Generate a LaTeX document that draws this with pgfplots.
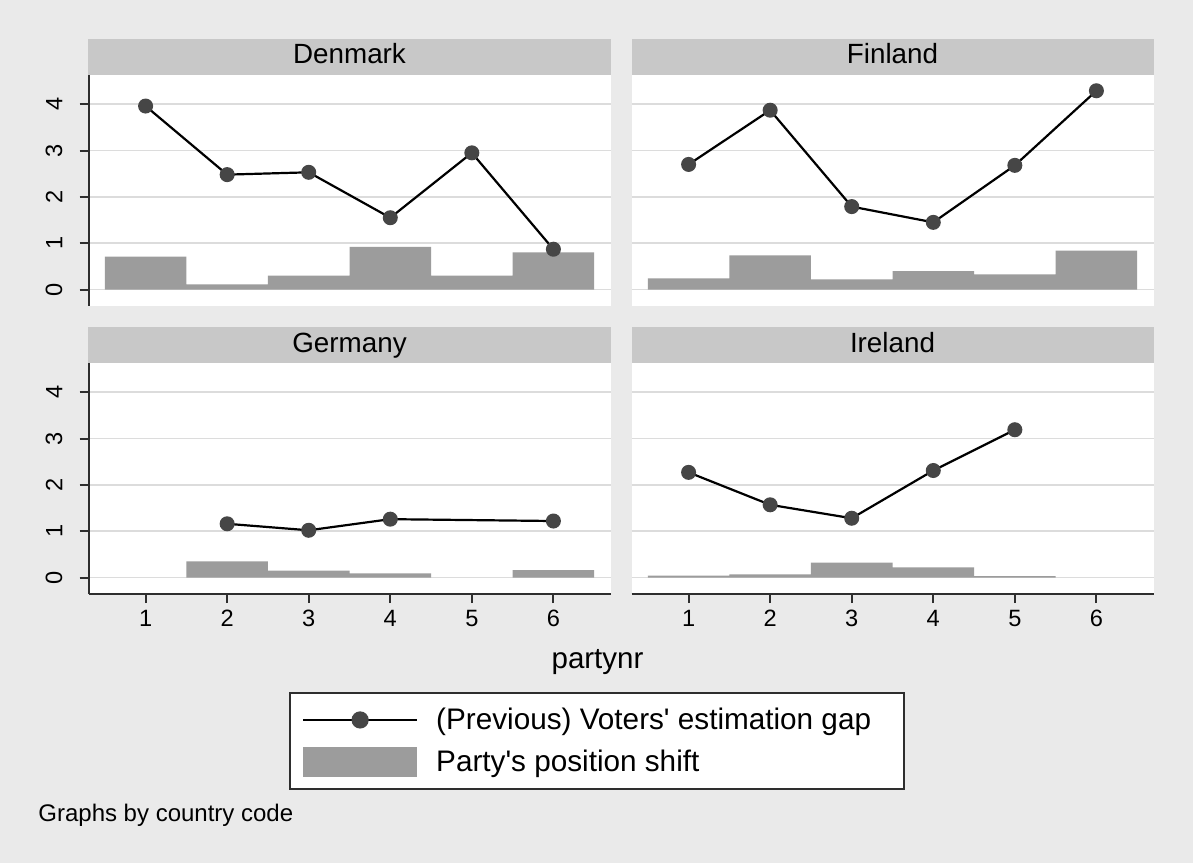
\documentclass[border=0pt]{standalone}
\usepackage{fontspec}
\setmainfont{Liberation Sans}
\usepackage{pgfplots}
\pgfplotsset{compat=1.18}

\definecolor{bgc}{HTML}{EAEAEA}
\definecolor{hdr}{HTML}{C8C8C8}
\definecolor{barc}{HTML}{9C9C9C}
\definecolor{mkc}{HTML}{464646}
\definecolor{gridc}{HTML}{DCDCDC}
\definecolor{axc}{HTML}{2E2E2E}

\pgfplotsset{
  panel/.style={
    scale only axis, width=261pt, height=115.5pt,
    xmin=0.3, xmax=6.7, ymin=-0.355, ymax=4.63,
    xtick={1,...,6}, ytick={0,...,4},
    axis x line*=bottom, axis y line*=left,
    axis line style={axc, line width=1pt},
    major tick length=4.5pt, tick align=outside,
    ymajorgrids, major grid style={gridc, line width=0.75pt},
    axis background/.style={fill=white},
    /pgf/number format/assume math mode=true,
    tick label style={font=\fontsize{11.8}{14}\selectfont},
    % rotated labels: the node's own y axis points left
    yticklabel style={rotate=90, anchor=south, yshift=5pt},
    every axis title shift=0pt,
    title style={at={(0.5,1)}, anchor=south, fill=hdr, minimum width=261pt,
      minimum height=18pt, inner sep=0pt, text height=10pt, text depth=2.6pt,
      font=\fontsize{13.9}{16}\selectfont},
  },
  leftpanel/.style={ytick style={axc, line width=1pt}},
  rightpanel/.style={y axis line style={draw=none}, ytick style={draw=none}, yticklabels={}},
  toppanel/.style={x axis line style={draw=none}, xtick style={draw=none}, xticklabels={}},
  bottompanel/.style={xtick style={axc, line width=1pt}},
  gapline/.style={black, line width=1.1pt, mark=*, mark size=3.35pt,
    mark options={fill=mkc, draw=mkc, line width=0.8pt},
    legend image code/.code={
      \draw[black, line width=1.1pt] (0pt,0pt) -- (57pt,0pt);
      \fill[mkc] (28.5pt,0pt) circle (3.75pt);}},
  shiftbar/.style={ybar, bar width=1, bar shift=0pt, fill=barc, draw=none,
    legend image code/.code={\fill[barc] (0pt,-7.5pt) rectangle (57pt,7.5pt);}},
}

\begin{document}
\begin{tikzpicture}
\fill[bgc] (0,0) rectangle (596.5pt,431.5pt);

% Denmark
\begin{axis}[panel, leftpanel, toppanel, at={(44.25pt,278.5pt)}, anchor=south west, title={Denmark}]
\addplot[gapline] coordinates {(1,3.96) (2,2.48) (3,2.53) (4,1.55) (5,2.95) (6,0.87)};
\addplot[shiftbar] coordinates {(1,0.71) (2,0.11) (3,0.30) (4,0.92) (5,0.30) (6,0.80)};
\end{axis}

% Finland
\begin{axis}[panel, rightpanel, toppanel, at={(315.75pt,278.5pt)}, anchor=south west, title={Finland}]
\addplot[gapline] coordinates {(1,2.70) (2,3.87) (3,1.79) (4,1.45) (5,2.68) (6,4.29)};
\addplot[shiftbar] coordinates {(1,0.24) (2,0.74) (3,0.22) (4,0.40) (5,0.33) (6,0.84)};
\end{axis}

% Germany
\begin{axis}[panel, leftpanel, bottompanel, at={(44.25pt,134.5pt)}, anchor=south west, title={Germany}]
\addplot[gapline] coordinates {(2,1.16) (3,1.02) (4,1.26) (6,1.22)};
\addplot[shiftbar] coordinates {(2,0.35) (3,0.15) (4,0.09) (6,0.16)};
\end{axis}

% Ireland
\begin{axis}[panel, rightpanel, bottompanel, at={(315.75pt,134.5pt)}, anchor=south west, title={Ireland},
  legend style={at={(-0.6561,-0.4229)}, anchor=north west, draw=axc, line width=1pt, fill=white,
    font=\fontsize{14.85}{17}\selectfont, inner xsep=6pt, inner ysep=5.5pt, row sep=4.85pt,
    /tikz/every odd column/.append style={column sep=7pt}},
  legend cell align=left]
\addplot[gapline] coordinates {(1,2.27) (2,1.57) (3,1.28) (4,2.31) (5,3.19)};
\addlegendentry{(Previous) Voters\textquotesingle\ estimation gap\hspace*{8.5pt}}
\addplot[shiftbar] coordinates {(1,0.04) (2,0.07) (3,0.32) (4,0.22) (5,0.03)};
\addlegendentry{Party\textquotesingle s position shift}
\end{axis}

\node[font=\fontsize{14.75}{17}\selectfont, anchor=base] at (298.75pt,97.5pt) {partynr};
\node[font=\fontsize{12}{14}\selectfont, anchor=base west, inner sep=0pt] at (19pt,20.65pt) {Graphs by country code};

\pgfresetboundingbox
\path (0,0) rectangle (596.5pt,431.5pt);
\end{tikzpicture}
\end{document}
